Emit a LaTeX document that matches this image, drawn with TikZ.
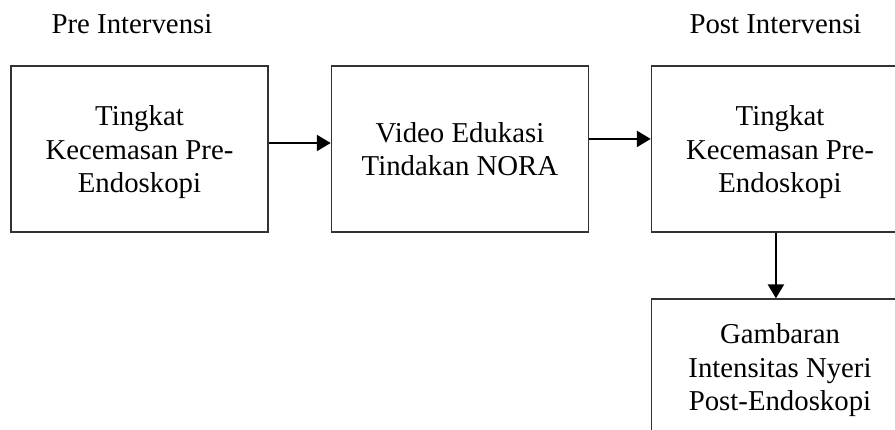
\documentclass[tikz,border=0pt]{standalone}
\usepackage{fontspec}
\setmainfont{Liberation Serif}
\definecolor{frame}{RGB}{50,50,50}
\definecolor{ink}{RGB}{0,0,0}
\usepackage{tikz}
\usetikzlibrary{arrows.meta,positioning}

\begin{document}
\begin{tikzpicture}[x=0.4167pt,y=-0.4167pt,
    box/.style={draw=frame,line width=0.55pt,minimum width=107.2pt,minimum height=69.2pt,
      align=center,inner sep=0pt,text depth=0pt,font=\fontsize{12}{13.8}\selectfont},
    flow/.style={-{Triangle[length=5.8pt,width=6.7pt]},ink,line width=0.85pt},
    phase/.style={anchor=base,font=\fontsize{12}{13.8}\selectfont}]
        \useasboundingbox (0,0) rectangle (895,429);
        \node[phase] (lblPre)  at (132,33)   {Pre Intervensi};
        \node[phase] (lblPost) at (775.5,33) {Post Intervensi};
        \node[box] (pre)   at (139.5,149) {Tingkat\\Kecemasan Pre-\\Endoskopi};
        \node[box] (video) at (460,149)   {Video Edukasi\\Tindakan NORA};
        \node[box] (post)  at (780,149)   {Tingkat\\Kecemasan Pre-\\Endoskopi};
        \node[box,minimum height=56.7pt] (nyeri) at (780,367)
          {Gambaran\\Intensitas Nyeri\\Post-Endoskopi};
        \draw[flow] ([yshift=2.5pt]pre.east) -- ([yshift=2.5pt]video.west);
        \draw[flow] ([yshift=4.2pt]video.east) -- ([yshift=4.2pt]post.west);
        \draw[flow] ([xshift=-1.7pt]post.south) -- ([xshift=-1.7pt]nyeri.north);
      \end{tikzpicture}
\end{document}
